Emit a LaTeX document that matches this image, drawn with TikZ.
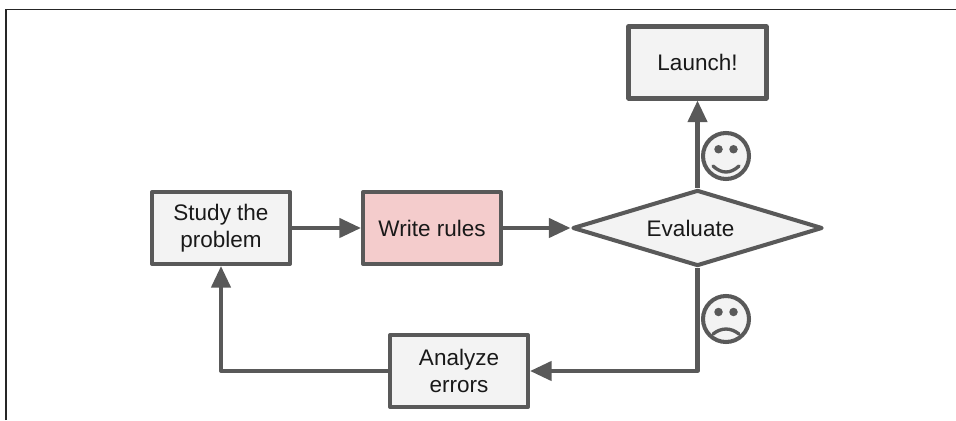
\documentclass[tikz,border=0pt]{standalone}
\usepackage{fontspec}
\setmainfont{Liberation Sans}
\usetikzlibrary{shapes.geometric, arrows.meta}

\definecolor{linegray}{HTML}{595959}
\definecolor{boxgray}{HTML}{F3F3F3}
\definecolor{boxpink}{HTML}{F4CCCC}

\tikzset{
    stepbox/.style={draw=linegray, fill=boxgray, line width=2.3pt, line join=round, inner sep=0, align=center,
        minimum width=2.76cm, minimum height=1.44cm, text=black!90, font=\fontsize{12.8}{15.5}\selectfont},
    flow/.style={draw=linegray, line width=2.3pt, line join=round, -{Triangle[length=0.43cm, width=0.38cm]}},
    smileface/.pic={
        \filldraw[draw=linegray, fill=boxgray, line width=2.3pt] (0, 0) circle (0.46);
        \fill[linegray] (-0.15, 0.135) circle (0.085) (0.15, 0.135) circle (0.085);
        \draw[linegray, line width=1.9pt, line cap=round] (-0.26, -0.2) .. controls (-0.09, -0.36) and (0.09, -0.36) .. (0.26, -0.2);
    },
    sadface/.pic={
        \filldraw[draw=linegray, fill=boxgray, line width=2.3pt] (0, 0) circle (0.46);
        \fill[linegray] (-0.15, 0.14) circle (0.085) (0.15, 0.14) circle (0.085);
        \draw[linegray, line width=1.9pt, line cap=round] (-0.26, -0.3) .. controls (-0.09, -0.167) and (0.09, -0.167) .. (0.26, -0.3);
    }
}

\begin{document}
\begin{tikzpicture}
    \useasboundingbox (0, 0) rectangle (19.12, 8.4);

    % frame along the top and the left
    \draw[black!85, line width=1.1pt] (0.12, 0) -- (0.12, 8.21) -- (19.12, 8.21);

    \node[stepbox] (study) at (4.42, 3.84) {Study the\\problem};
    \node[stepbox, fill=boxpink] (rules) at (8.64, 3.84) {Write rules};
    \node[stepbox, diamond, minimum width=5cm, minimum height=1.52cm, aspect=3.3] (evaluate) at (13.95, 3.84) {Evaluate\hspace*{0.28cm}};
    \node[stepbox] (launch) at (13.95, 7.15) {Launch!};
    \node[stepbox] (errors) at (9.18, 0.98) {Analyze\\errors};

    \draw[flow] (study) -- (rules);
    \draw[flow] (rules) -- (evaluate);
    \draw[flow] (evaluate) -- (launch);
    \draw[flow] (evaluate) |- (errors);
    \draw[flow] (errors) -| (study);

    \pic at (14.52, 5.28) {smileface};
    \pic at (14.52, 2.02) {sadface};
\end{tikzpicture}
\end{document}
